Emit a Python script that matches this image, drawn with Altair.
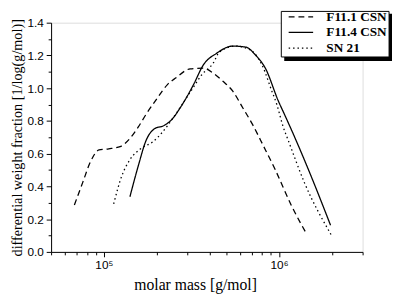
import altair as alt
import pandas as pd

# ---- data ----
f111_M = [67900, 75700, 84100, 93800, 106700, 123900, 140900, 157000, 174600, 202800,
          230700, 257000, 311000, 369800, 420700, 478600, 544500, 619400, 703100,
          818400, 950600, 1177000, 1429000]
f111_w = [0.287, 0.423, 0.553, 0.623, 0.630, 0.643, 0.693, 0.762, 0.842, 0.942,
          1.022, 1.062, 1.118, 1.122, 1.092, 1.042, 0.982, 0.882, 0.782,
          0.643, 0.503, 0.283, 0.114]

f114_M = [140900, 157000, 174600, 194500, 220800, 246000, 273500, 325100, 369800,
          438500, 544500, 645700, 734500, 835600, 990800, 1072000, 1227000, 1524000, 1968000]
f114_w = [0.337, 0.523, 0.683, 0.752, 0.772, 0.812, 0.882, 1.022, 1.142,
          1.212, 1.257, 1.251, 1.202, 1.122, 0.922, 0.842, 0.702, 0.463, 0.163]

sn21_M = [113800, 126500, 140900, 163700, 190100, 216300, 246000, 318400, 362200,
          420700, 458100, 567500, 688700, 799800, 909900, 970500, 1057000, 1127000,
          1396000, 1986000]
sn21_w = [0.293, 0.463, 0.563, 0.633, 0.672, 0.732, 0.812, 0.992, 1.082,
          1.152, 1.222, 1.257, 1.232, 1.142, 0.982, 0.902, 0.762, 0.683,
          0.423, 0.104]

series_names = ["F11.1 CSN", "F11.4 CSN", "SN 21"]
series_dash = [[6, 4], [1, 0], [1.5, 3]]

x_ticks = [5e4, 6e4, 7e4, 8e4, 9e4, 1e5, 2e5, 3e5, 4e5, 5e5, 6e5, 7e5, 8e5, 9e5,
           1e6, 2e6, 3e6]
y_ticks = [round(i * 0.1, 1) for i in range(15)]

rows = []
for name, Ms, ws in zip(series_names, [f111_M, f114_M, sn21_M], [f111_w, f114_w, sn21_w]):
    for i, (m, w) in enumerate(zip(Ms, ws)):
        rows.append({"series": name, "M": m, "w": w, "order": i})
df = pd.DataFrame(rows)

x_axis = alt.Axis(
    values=x_ticks,
    labelExpr="datum.value == 100000 ? '10⁵' : (datum.value == 1000000 ? '10⁶' : '')",
    tickSize={"condition": {"test": "datum.value == 100000 || datum.value == 1000000", "value": 5}, "value": 3},
    grid=False, domainColor="black", tickColor="black", labelColor="black",
    labelFont="Liberation Sans", labelFontSize=12, labelPadding=3,
    title="molar mass [g/mol]", titleFont="Liberation Serif", titleFontSize=16,
    titleFontWeight="normal", titleColor="black", titlePadding=6, titleX=147,
    labelFlush=False, labelOverlap=False,
)
y_axis = alt.Axis(
    values=y_ticks,
    labelExpr="round(datum.value*10) % 2 == 0 ? format(datum.value, '.1f') : ''",
    tickSize={"condition": {"test": "round(datum.value*10) % 2 == 0", "value": 5}, "value": 3},
    grid=False, domainColor="black", tickColor="black", labelColor="black",
    labelFont="Liberation Sans", labelFontSize=12, labelPadding=3,
    title="differential weight fraction [1/log(g/mol)]", titleFont="Liberation Serif",
    titleFontSize=14.5, titleFontWeight="normal", titleColor="black", titlePadding=3,
    labelFlush=False, labelOverlap=False,
)

lines = alt.Chart(df).mark_line(interpolate="monotone", color="black", strokeWidth=1.3).encode(
    x=alt.X("M:Q", scale=alt.Scale(type="log", domain=[5e4, 3e6], nice=False), axis=x_axis),
    y=alt.Y("w:Q", scale=alt.Scale(domain=[0, 1.4], nice=False), axis=y_axis),
    strokeDash=alt.StrokeDash(
        "series:N",
        scale=alt.Scale(domain=series_names, range=series_dash),
        legend=alt.Legend(
            title=None, orient="none", legendX=248, legendY=-13,
            symbolType="M-2,0H2", symbolStrokeColor="black", symbolStrokeWidth=1.3,
            symbolFillColor="transparent",
            symbolSize=156, labelFont="Liberation Serif", labelFontSize=13.5,
            labelFontWeight="bold", labelColor="black", labelOffset=19,
            rowPadding=2, padding=0,
        ),
    ),
    order="order:Q",
    detail="series:N",
)

box_df = pd.DataFrame({"k": [0]})
shadow = alt.Chart(box_df).mark_rect(color="black").encode(
    x=alt.value(238), x2=alt.value(349), y=alt.value(-9), y2=alt.value(39)
)
box = alt.Chart(box_df).mark_rect(fill="white", stroke="black", strokeWidth=1).encode(
    x=alt.value(235), x2=alt.value(345), y=alt.value(-11.5), y2=alt.value(35)
)

chart = alt.layer(shadow, box, lines).properties(
    width=318, height=234,
    autosize=alt.AutoSizeParams(type="none"),
    padding={"left": 44, "top": 12, "right": 30, "bottom": 41},
).configure_view(stroke=None).configure(background="white")

chart.save("out.html", embed_options={"renderer": "svg", "actions": False})
